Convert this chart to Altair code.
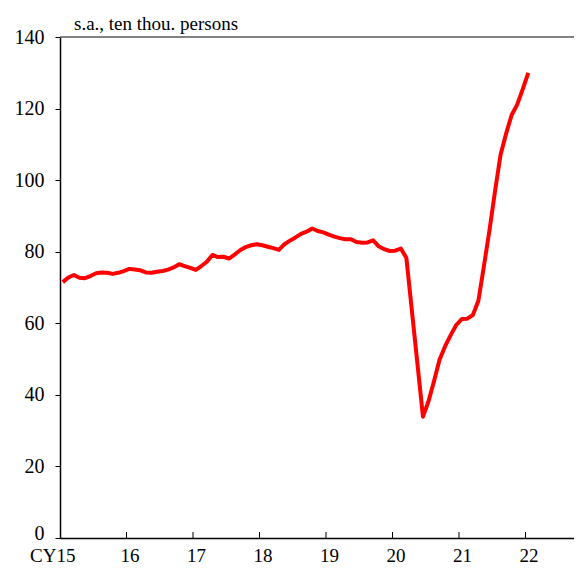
import altair as alt
import pandas as pd

# ---- data (monthly, Jan 2015 - Jan 2022) ----
start_year = 2015
values = [
    71.5, 72.8, 73.5, 72.7, 72.6, 73.2, 74.0, 74.2, 74.1, 73.8, 74.1, 74.6,   # 2015
    75.2, 75.0, 74.8, 74.2, 74.1, 74.4, 74.6, 75.0, 75.6, 76.5, 76.0, 75.5,   # 2016
    74.9, 76.0, 77.2, 79.1, 78.5, 78.6, 78.1, 79.2, 80.4, 81.3, 81.8, 82.1,   # 2017
    81.8, 81.4, 81.0, 80.5, 82.1, 83.1, 84.0, 85.0, 85.6, 86.5, 85.8, 85.4,   # 2018
    84.8, 84.2, 83.8, 83.5, 83.5, 82.7, 82.5, 82.6, 83.2, 81.5, 80.7, 80.2,   # 2019
    80.3, 80.9, 78.3, 63.5, 48.7, 33.9, 38.2, 43.9, 49.9, 53.6, 56.7, 59.5,   # 2020
    61.2, 61.3, 62.3, 66.3, 76.0, 86.0, 96.9, 107.1, 113.0, 118.2, 121.1, 125.4,  # 2021
    130.0,                                                                     # 2022
]
tick_years = [2015, 2016, 2017, 2018, 2019, 2020, 2021, 2022]
tick_labels = ["CY15", "16", "17", "18", "19", "20", "21", "22"]
y_ticks = [0, 20, 40, 60, 80, 100, 120, 140]
title_text = "s.a., ten thou. persons"

FONT = "Liberation Serif, Times New Roman, serif"
W, H = 514, 501
PX_PER_YEAR = 66.5

df = pd.DataFrame({
    "t": [start_year + (i + 0.5) / 12 for i in range(len(values))],
    "v": values,
})

label_expr = "''"
for yr, lab in zip(reversed(tick_years), reversed(tick_labels)):
    label_expr = f"datum.value == {yr} ? '{lab}' : ({label_expr})"

x_scale = alt.Scale(domain=[start_year, start_year + W / PX_PER_YEAR], nice=False, zero=False)
y_scale = alt.Scale(domain=[0, 140], nice=False)

x_axis = alt.Axis(
    values=tick_years, labelExpr=label_expr, title=None, grid=False, ticks=False,
    domainColor="black", domainWidth=1.5, labelFont=FONT, labelFontSize=19,
    labelColor="black", labelPadding=23, labelFlush=False, labelOverlap=False,
    labelBaseline="alphabetic",
    labelAlign={"condition": {"test": "datum.value == 2015", "value": "right"}, "value": "center"},
    labelOffset={"condition": {"test": "datum.value == 2015", "value": 15}, "value": 3},
)
y_axis = alt.Axis(
    values=y_ticks, title=None, grid=False, tickSize=5, tickColor="black", tickWidth=1,
    domainColor="black", domainWidth=1.5, labelFont=FONT, labelFontSize=20,
    labelColor="black", labelPadding=11, labelFlush=False, labelOverlap=False,
    labelOffset={"condition": {"test": "datum.value == 0", "value": -5}, "value": 0},
)

x_enc = alt.X("t:Q", scale=x_scale, axis=x_axis)

line = alt.Chart(df).mark_line(color="#ff0000", strokeWidth=4, strokeJoin="round").encode(
    x=x_enc,
    y=alt.Y("v:Q", scale=y_scale, axis=y_axis),
)

tick_df = pd.DataFrame({"t": tick_years[1:]})
ticks = alt.Chart(tick_df).mark_rule(color="black", strokeWidth=1).encode(
    x=x_enc,
    y=alt.value(H),
    y2=alt.value(H - 6),
)

top_line = alt.Chart(pd.DataFrame({"a": [0]})).mark_rule(color="#595959", strokeWidth=1.5).encode(
    x=alt.value(0), x2=alt.value(W), y=alt.value(0),
)

title = alt.Chart(pd.DataFrame({"a": [0]})).mark_text(
    align="left", baseline="alphabetic", font=FONT, fontSize=19, color="black",
).encode(
    x=alt.value(14), y=alt.value(-7), text=alt.value(title_text),
)

chart = alt.layer(line, ticks, top_line, title).properties(
    width=W, height=H,
    autosize=alt.AutoSizeParams(type="none"),
    padding={"left": 52, "top": 29, "right": 0, "bottom": 26},
).configure_view(stroke=None)

chart.save("out.html", embed_options={"renderer": "svg", "actions": False})
